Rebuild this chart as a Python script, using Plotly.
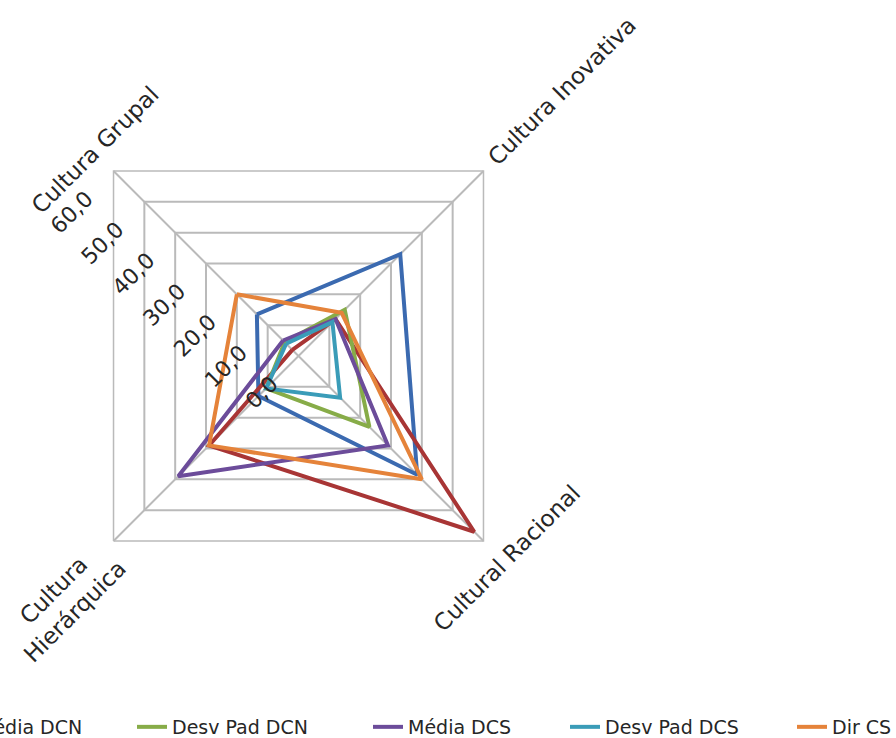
import plotly.graph_objects as go

W, H = 896, 738

# ---------------- data ----------------
categories = ["Cultura Grupal", "Cultura Inovativa", "Cultural Racional", "Cultura Hierárquica"]
category_labels = ["Cultura Grupal", "Cultura Inovativa", "Cultural Racional", "Cultura<br>Hierárquica"]
series_names = ["Dir CN", "Média DCN", "Desv Pad DCN", "Média DCS", "Desv Pad DCS", "Dir CS"]
dir_cn = [13.5, 33.0, 38.5, 13.0]
media_dcn = [2.0, 12.0, 57.0, 29.0]
desv_pad_dcn = [4.5, 15.0, 23.0, 10.5]
media_dcs = [5.0, 12.0, 29.0, 39.0]
desv_pad_dcs = [4.0, 11.0, 13.5, 10.5]
dir_cs = [20.0, 14.0, 40.0, 29.0]
radial_ticks = [0, 10, 20, 30, 40, 50, 60]

series_values = [dir_cn, media_dcn, desv_pad_dcn, media_dcs, desv_pad_dcs, dir_cs]
colors = ["#3B6AB0", "#A83535", "#87AC48", "#6C4C9A", "#3A9CB8", "#E5833A"]

GRID = "#BABABA"
TEXT = "#262626"
FONT = "DejaVu Sans"


def px_x(x):
    return x / W


def px_y(y):
    return 1 - y / H


# polar geometry (pixels)
cx, cy, R = 298.5, 356.0, 261.6

fig = go.Figure()
legend_ids = ["legend"] + ["legend%d" % i for i in range(2, 7)]
for name, vals, col, lid in zip(series_names, series_values, colors, legend_ids):
    fig.add_trace(go.Scatterpolar(
        r=vals + vals[:1],
        theta=categories + categories[:1],
        mode="lines",
        name=name,
        line=dict(color=col, width=4),
        legend=lid,
        hoverinfo="skip",
    ))

# legend text start positions (pixels)
text_starts = [-260, -23, 172, 408, 605, 832]
legend_layout = {}
for lid, ts in zip(legend_ids, text_starts):
    legend_layout[lid] = dict(
        orientation="h",
        x=(ts - 40) / W, xanchor="left",
        y=px_y(727), yanchor="middle",
        font=dict(family=FONT, size=19, color=TEXT),
        bgcolor="rgba(0,0,0,0)",
        borderwidth=0,
    )

# category labels (rotated)
label_centers = [(95, 150), (562, 91), (507, 558), (64, 601)]
annotations = []
for txt, (lx, ly) in zip(category_labels, label_centers):
    annotations.append(dict(
        text=txt, x=px_x(lx), y=px_y(ly), xref="paper", yref="paper",
        xanchor="center", yanchor="middle", showarrow=False,
        textangle=-45, align="center",
        font=dict(family=FONT, size=23, color=TEXT),
    ))

fig.update_layout(
    width=W, height=H,
    margin=dict(l=0, r=0, t=0, b=0, autoexpand=False),
    paper_bgcolor="white",
    plot_bgcolor="white",
    separators=",.",
    font=dict(family=FONT, color=TEXT),
    showlegend=True,
    annotations=annotations,
    polar=dict(
        domain=dict(x=[px_x(cx - R), px_x(cx + R)], y=[px_y(cy + R), px_y(cy - R)]),
        bgcolor="white",
        gridshape="linear",
        angularaxis=dict(
            rotation=135, direction="clockwise",
            showticklabels=False, ticks="",
            showgrid=True, gridcolor=GRID, gridwidth=1.5,
            showline=True, linecolor=GRID, linewidth=1.5,
        ),
        radialaxis=dict(
            range=[0, 60], tickvals=radial_ticks, tickformat=".1f",
            angle=135, side="counterclockwise", tickangle=90,
            showline=False, showgrid=True, gridcolor=GRID, gridwidth=1.5,
            ticks="outside", ticklen=26, tickcolor="rgba(0,0,0,0)",
            tickfont=dict(family=FONT, size=22, color=TEXT),
        ),
    ),
    **legend_layout,
)

fig.write_html("out.html")
